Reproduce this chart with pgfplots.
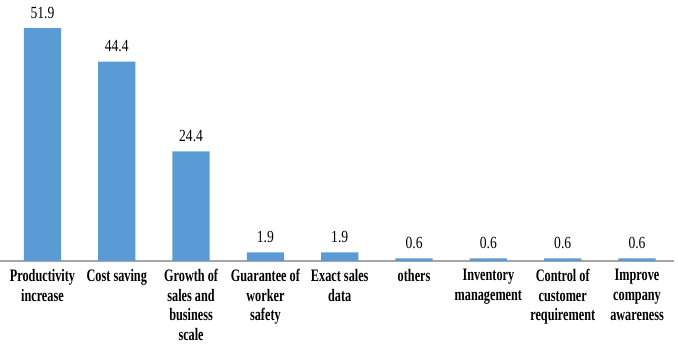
\documentclass[border=0pt]{standalone}
\usepackage{pgfplots}
\pgfplotsset{compat=1.18}
\usepackage{fontspec}
\setmainfont{Liberation Serif}
\newfontfamily\labfont[FakeStretch=0.7]{Liberation Serif}
\newfontfamily\valfont[FakeStretch=0.8]{Liberation Serif}
\definecolor{barblue}{HTML}{5B9BD5}
\definecolor{axgray}{HTML}{A6A6A6}
\begin{document}
\begin{tikzpicture}
\begin{axis}[
  at={(0bp,84bp)}, anchor=south west,
  scale only axis,
  width=674.2bp, height=261bp,
  xmin=-0.571, xmax=8.5,
  ymin=0, ymax=58.14,
  axis x line=bottom, axis y line=none,
  x axis line style={-, draw=axgray, line width=1.2bp},
  ybar, bar width=37.3bp,
  ytick=\empty,
  xtick=data,
  major tick length=0pt,
  xticklabels={{Productivity\\increase},{Cost saving},{Growth of\\sales and\\business\\scale},{Guarantee of\\worker\\safety},{Exact sales\\data},{others},{Inventory\\management},{Control of\\customer\\requirement},{Improve\\company\\awareness}},
  xticklabel style={font=\labfont\bfseries\fontsize{17.5bp}{19.7bp}\selectfont, align=center, anchor=north, inner sep=0pt, yshift=-8bp},
  nodes near coords,
  nodes near coords style={font=\valfont\fontsize{17bp}{19bp}\selectfont, inner sep=0pt, anchor=south, yshift=9.5bp, /pgf/number format/fixed, /pgf/number format/precision=1, /pgf/number format/fixed zerofill},
  /pgf/number format/assume math mode=true,
]
\addplot[fill=barblue, draw=none] coordinates {(0,51.9) (1,44.4) (2,24.4) (3,1.9) (4,1.9) (5,0.6) (6,0.6) (7,0.6) (8,0.6)};
\end{axis}
\pgfresetboundingbox
\path (0,0) rectangle (678bp,345bp);
\end{tikzpicture}
\end{document}
